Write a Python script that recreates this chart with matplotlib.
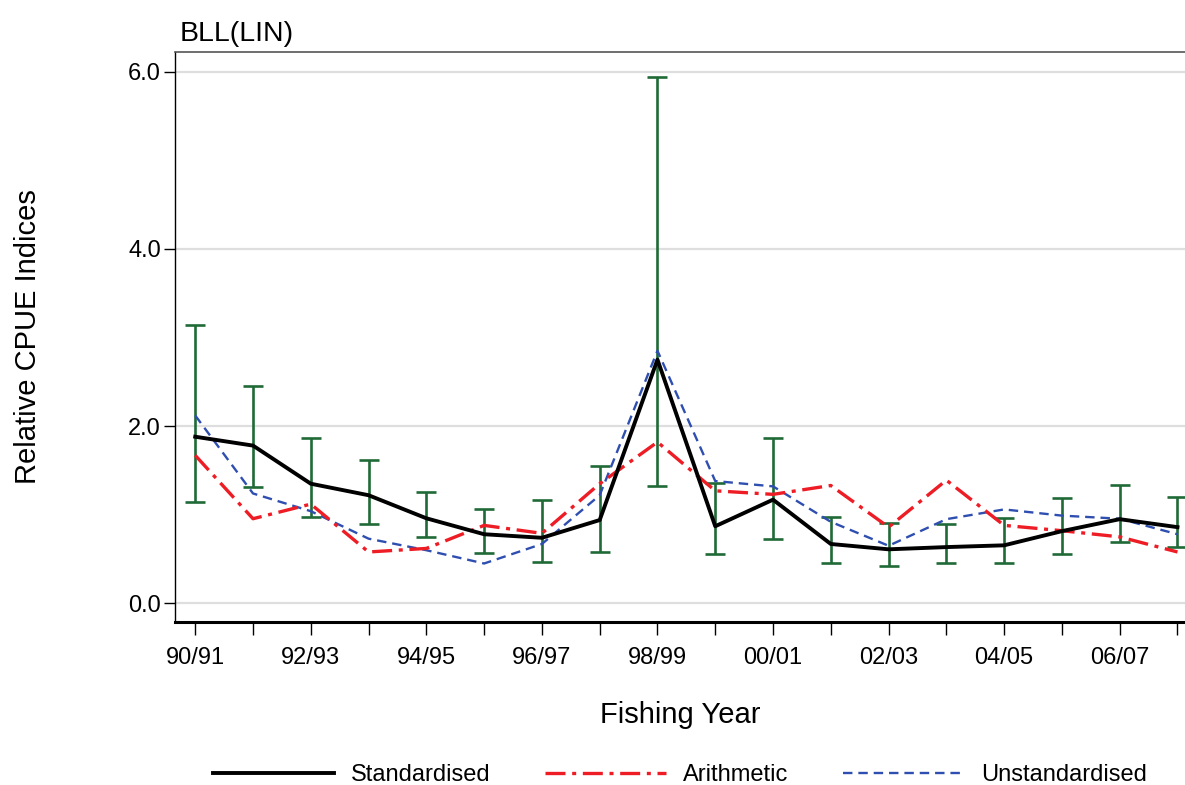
import matplotlib
matplotlib.use("Agg")
import matplotlib.pyplot as plt
from matplotlib.lines import Line2D
import numpy as np

# fishing years 1990/91 .. 2007/08
years = ["90/91", "91/92", "92/93", "93/94", "94/95", "95/96", "96/97", "97/98", "98/99",
         "99/00", "00/01", "01/02", "02/03", "03/04", "04/05", "05/06", "06/07", "07/08"]

standardised = [1.88, 1.78, 1.35, 1.22, 0.96, 0.78, 0.74, 0.94, 2.75,
                0.87, 1.17, 0.67, 0.61, 0.635, 0.655, 0.815, 0.95, 0.86]
arithmetic = [1.67, 0.955, 1.12, 0.58, 0.62, 0.88, 0.79, 1.35, 1.82,
              1.27, 1.23, 1.33, 0.86, 1.39, 0.88, 0.82, 0.75, 0.58]
unstandardised = [2.12, 1.24, 1.04, 0.73, 0.60, 0.45, 0.67, 1.22, 2.85,
                  1.38, 1.32, 0.92, 0.65, 0.95, 1.06, 0.99, 0.955, 0.78]
ci_lower = [1.14, 1.31, 0.97, 0.90, 0.75, 0.57, 0.47, 0.575, 1.32,
            0.56, 0.73, 0.46, 0.42, 0.46, 0.45, 0.56, 0.69, 0.635]
ci_upper = [3.14, 2.45, 1.87, 1.62, 1.26, 1.06, 1.17, 1.55, 5.94,
            1.36, 1.87, 0.97, 0.91, 0.90, 0.96, 1.19, 1.34, 1.20]

y_ticks = [0.0, 2.0, 4.0, 6.0]

STD_COLOR = "black"
ARITH_COLOR = "#ee1c24"
UNSTD_COLOR = "#2f4fb0"
CI_COLOR = "#1f6a37"

ARITH_DASH = (0, (6, 2, 1.2, 2))
UNSTD_DASH = (0, (4, 2.5))

plt.rcParams["font.family"] = ["Liberation Sans", "DejaVu Sans"]

fig = plt.figure(figsize=(11.85, 7.85), dpi=100)
ax = fig.add_axes([175 / 1185, 1 - 622 / 785, 1 - 175 / 1185, (622 - 52) / 785])

x = np.arange(len(years))
std = np.array(standardised)
lo = np.array(ci_lower)
hi = np.array(ci_upper)

for y in y_ticks:
    ax.axhline(y, color="#dedede", linewidth=1.6, zorder=0)

ax.errorbar(x, std, yerr=[std - lo, hi - std], fmt="none", ecolor=CI_COLOR,
            elinewidth=1.9, capsize=7.5, capthick=1.9, zorder=2)

ax.plot(x, unstandardised, color=UNSTD_COLOR, linewidth=1.7,
        linestyle=UNSTD_DASH, zorder=3)
ax.plot(x, arithmetic, color=ARITH_COLOR, linewidth=2.4,
        linestyle=ARITH_DASH, zorder=4)
ax.plot(x, standardised, color=STD_COLOR, linewidth=2.8, zorder=5)

ax.set_xlim(-0.35, 17.13)
ax.set_ylim(-0.21, 6.22)
ax.set_yticks(y_ticks)
ax.set_yticklabels([f"{v:.1f}" for v in y_ticks])
ax.set_xticks(x)
ax.set_xticklabels([lab if i % 2 == 0 else "" for i, lab in enumerate(years)])

ax.tick_params(axis="y", direction="out", length=8, width=1, labelsize=17, pad=2)
ax.tick_params(axis="x", direction="out", length=9, width=1, labelsize=17, pad=9)

ax.spines["right"].set_visible(False)
ax.spines["top"].set_color("#555555")
ax.spines["top"].set_linewidth(1.2)
ax.spines["left"].set_linewidth(1.0)
ax.spines["bottom"].set_linewidth(2.2)

ax.set_xlabel("Fishing Year", fontsize=21, labelpad=23)
ax.set_ylabel("Relative CPUE Indices", fontsize=21, labelpad=62)
ax.set_title("BLL(LIN)", loc="left", fontsize=20.5, pad=8, x=0.005)

handles = [
    Line2D([], [], color=STD_COLOR, linewidth=2.8),
    Line2D([], [], color=ARITH_COLOR, linewidth=2.4, linestyle=ARITH_DASH),
    Line2D([], [], color=UNSTD_COLOR, linewidth=1.7, linestyle=UNSTD_DASH),
]
fig.legend(handles, ["Standardised", "Arithmetic", "Unstandardised"],
           loc="center", bbox_to_anchor=(0.574, 0.013), ncol=3, frameon=False,
           fontsize=17, handlelength=5.1, handletextpad=0.75, columnspacing=2.3,
           borderpad=0)

fig.savefig("out.png", dpi=100)
